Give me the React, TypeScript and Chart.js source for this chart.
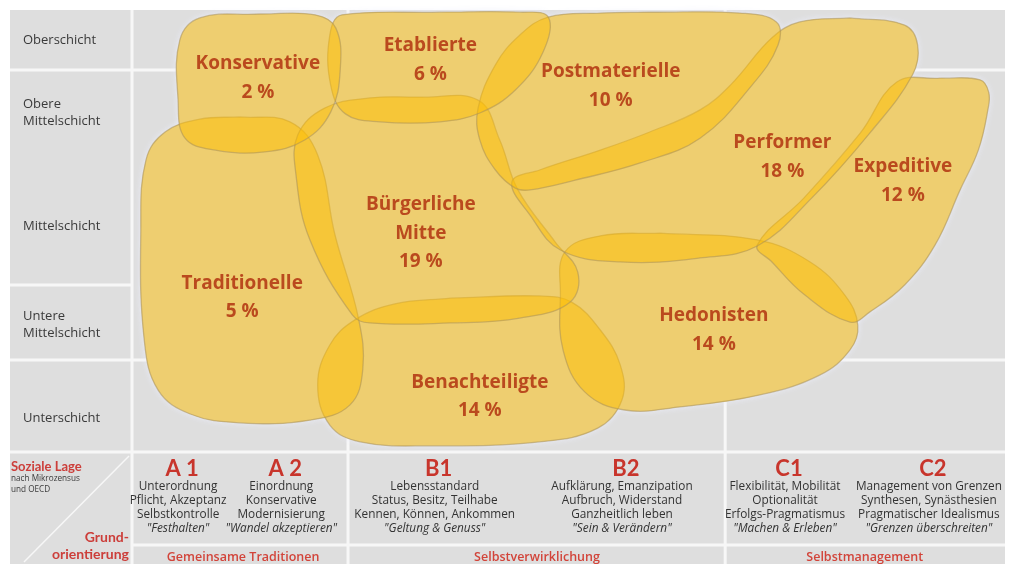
import React, { useEffect, useRef } from "react";
import { Chart, registerables } from "chart.js";

Chart.register(...registerables);

type Pt = [number, number];

// ---------- data (x: Grundorientierung 0–100, y: Soziale Lage 0–100) ----------
const milieuNames = [
  "Konservative",
  "Etablierte",
  "Postmaterielle",
  "Performer",
  "Expeditive",
  "Bürgerliche Mitte",
  "Traditionelle",
  "Hedonisten",
  "Benachteiligte",
];
const milieuShares = [2, 6, 10, 18, 12, 19, 5, 14, 14];
const milieuLabelX = [14.4, 34.3, 55.1, 74.9, 88.8, 33.2, 12.6, 67.0, 40.0];
const milieuLabelY = [87.8, 91.9, 86.0, 69.9, 64.5, 55.9, 38.2, 30.8, 15.8];

const konservativeOutline: Pt[] = [
  [14.6, 99.1], [21.0, 98.9], [23.4, 95.9], [23.9, 86.4], [22.8, 76.9], [19.8, 70.6],
  [15.2, 67.9], [9.5, 68.3], [6.0, 71.0], [5.2, 79.6], [5.4, 93.2], [7.7, 98.2], [14.6, 99.1],
];
const etablierteOutline: Pt[] = [
  [35.4, 99.5], [44.6, 99.5], [47.9, 98.4], [47.3, 90.5], [44.1, 81.9], [40.0, 76.7],
  [35.4, 74.7], [28.5, 74.7], [24.5, 76.5], [22.8, 83.0], [22.7, 94.3], [24.1, 98.9], [35.4, 99.5],
];
const postmaterielleOutline: Pt[] = [
  [59.6, 99.5], [70.0, 99.3], [74.2, 97.3], [74.4, 92.1], [71.4, 83.0], [65.4, 71.0],
  [58.5, 65.4], [51.0, 61.5], [45.8, 59.3], [44.1, 59.7], [41.8, 63.8], [40.0, 70.6],
  [39.8, 77.8], [41.8, 87.6], [44.6, 94.3], [47.9, 98.4], [53.9, 99.3], [59.6, 99.5],
];
const performerOutline: Pt[] = [
  [82.7, 98.2], [76.9, 97.3], [73.7, 93.7], [68.9, 83.0], [65.4, 77.4], [59.6, 72.4],
  [53.9, 68.3], [46.9, 63.8], [43.7, 61.1], [45.8, 53.6], [49.3, 45.7], [56.2, 43.0],
  [65.4, 43.9], [72.0, 46.6], [78.3, 57.5], [85.0, 72.2], [89.9, 85.3], [90.5, 92.1],
  [89.0, 96.6], [82.7, 98.2],
];
const expeditiveOutline: Pt[] = [
  [93.1, 84.6], [97.7, 84.2], [98.7, 81.4], [98.6, 77.4], [97.5, 68.3], [95.4, 59.3],
  [92.5, 46.8], [89.0, 37.8], [85.0, 31.7], [82.7, 29.4], [77.5, 35.5], [73.7, 43.0],
  [72.0, 46.8], [77.4, 57.5], [83.9, 72.2], [88.1, 83.7], [93.1, 84.6],
];
const buergerlicheOutline: Pt[] = [
  [33.1, 80.3], [39.8, 79.6], [42.3, 70.6], [44.4, 59.3], [48.7, 47.5], [51.3, 40.7],
  [50.4, 33.9], [44.6, 30.3], [36.6, 29.2], [27.3, 29.2], [25.3, 31.0], [20.4, 48.0],
  [18.8, 62.7], [19.0, 71.7], [22.1, 77.8], [27.3, 80.1], [33.1, 80.3],
];
const traditionelleOutline: Pt[] = [
  [12.3, 75.8], [18.1, 74.7], [21.3, 67.2], [23.3, 49.1], [26.0, 30.3], [26.5, 18.6],
  [25.0, 10.6], [20.4, 7.2], [12.3, 6.6], [6.6, 8.6], [2.9, 14.0], [1.3, 25.3],
  [0.9, 50.2], [1.5, 66.1], [3.7, 72.4], [7.7, 75.3], [12.3, 75.8],
];
const hedonistenOutline: Pt[] = [
  [60.8, 49.5], [72.0, 48.0], [78.1, 43.0], [82.1, 35.5], [83.6, 28.7], [82.7, 23.1],
  [79.2, 17.4], [72.3, 12.9], [63.1, 10.2], [56.7, 9.5], [52.1, 13.6], [49.6, 23.1],
  [49.3, 35.5], [49.8, 45.2], [53.9, 48.9], [60.8, 49.5],
];
const benachteiligteOutline: Pt[] = [
  [36.6, 34.8], [46.9, 35.3], [50.6, 33.9], [53.9, 27.6], [56.2, 19.7], [56.4, 11.8],
  [53.6, 5.4], [46.9, 2.3], [34.3, 1.4], [26.2, 2.3], [22.7, 6.1], [21.3, 15.2],
  [22.7, 24.2], [25.6, 29.9], [30.2, 33.5], [36.6, 34.8],
];
const milieuOutlines = [
  konservativeOutline,
  etablierteOutline,
  postmaterielleOutline,
  performerOutline,
  expeditiveOutline,
  buergerlicheOutline,
  traditionelleOutline,
  hedonistenOutline,
  benachteiligteOutline,
];

const socialClasses = ["Oberschicht", "Obere|Mittelschicht", "Mittelschicht", "Untere|Mittelschicht", "Unterschicht"];
const socialClassCenters = [93.2, 76.7, 51.1, 28.7, 7.7];
const socialClassBounds = [86.4, 37.8, 20.8];

const orientationCodes = ["A 1", "A 2", "B1", "B2", "C1", "C2"];
const orientationLine1 = ["Unterordnung", "Einordnung", "Lebensstandard", "Aufklärung, Emanzipation", "Flexibilität, Mobilität", "Management von Grenzen"];
const orientationLine2 = ["Pflicht, Akzeptanz", "Konservative", "Status, Besitz, Teilhabe", "Aufbruch, Widerstand", "Optionalität", "Synthesen, Synästhesien"];
const orientationLine3 = ["Selbstkontrolle", "Modernisierung", "Kennen, Können, Ankommen", "Ganzheitlich leben", "Erfolgs-Pragmatismus", "Pragmatischer Idealismus"];
const orientationMottos = ['"Festhalten"', '"Wandel akzeptieren"', '"Geltung & Genuss"', '"Sein & Verändern"', '"Machen & Erleben"', '"Grenzen überschreiten"'];
const orientationCenters = [5.2, 17.1, 34.8, 56.4, 75.2, 91.8];
const orientationGroups = ["Gemeinsame Traditionen", "Selbstverwirklichung", "Selbstmanagement"];
const orientationGroupCenters = [12.7, 46.6, 84.4];
const orientationGroupBounds = [24.8, 68.3];

// ---------- styles ----------
const TEXT_FONT = '"Open Sans", "DejaVu Sans", sans-serif';
const HEAD_FONT = 'Lato, "Open Sans", sans-serif';
const GRAY = "#DEDEDE";
const LINE_WHITE = "#F7F7F7";

const tablePlugin = {
  id: "sinusTable",
  beforeDraw(chart: any) {
    const { ctx, chartArea: a, scales } = chart;
    const xs = scales.x;
    const ys = scales.y;
    const L = 10;
    const R = a.right + 5;
    const T = a.top;
    const B = chart.height;
    ctx.save();
    ctx.fillStyle = "#FFFFFF";
    ctx.fillRect(0, 0, chart.width, chart.height);
    ctx.fillStyle = GRAY;
    ctx.fillRect(L, T, R - L, B - T);

    const seg = (x0: number, y0: number, x1: number, y1: number) => {
      ctx.beginPath();
      ctx.moveTo(x0, y0);
      ctx.lineTo(x1, y1);
      ctx.stroke();
    };
    ctx.strokeStyle = LINE_WHITE;
    ctx.lineWidth = 3;
    socialClassBounds.forEach((v, i) => {
      const py = ys.getPixelForValue(v);
      seg(L, py, i === 1 ? a.left : R, py);
    });
    seg(L, a.bottom, R, a.bottom);
    seg(a.left, a.bottom + 93, R, a.bottom + 93);
    seg(a.left - 1, T, a.left - 1, B);
    orientationGroupBounds.forEach((v) => {
      const px = xs.getPixelForValue(v);
      seg(px, T, px, B);
    });
    ctx.lineWidth = 1.5;
    ctx.strokeStyle = "rgba(255,255,255,0.75)";
    seg(L + 14, B - 2, a.left - 4, a.bottom + 4);

    // left column labels
    ctx.fillStyle = "#3A3A3A";
    ctx.font = `13px ${TEXT_FONT}`;
    ctx.textAlign = "left";
    ctx.textBaseline = "middle";
    socialClasses.forEach((label, i) => {
      const parts = label.split("|");
      const cy = ys.getPixelForValue(socialClassCenters[i]);
      parts.forEach((p, k) => {
        ctx.fillText(p, 23, cy + (k - (parts.length - 1) / 2) * 17);
      });
    });

    // bottom header
    const base = a.bottom;
    ctx.fillStyle = "#CC3E3A";
    ctx.font = `bold 13px ${HEAD_FONT}`;
    ctx.fillText("Soziale Lage", 11, base + 15);
    ctx.fillStyle = "#3A3A3A";
    ctx.font = `8.2px ${TEXT_FONT}`;
    ctx.fillText("nach Mikrozensus", 11, base + 27);
    ctx.fillText("und OECD", 11, base + 38);
    ctx.fillStyle = "#CC3E3A";
    ctx.font = `bold 14px ${HEAD_FONT}`;
    ctx.textAlign = "right";
    ctx.fillText("Grund-", a.left - 4, base + 85);
    ctx.fillText("orientierung", a.left - 4, base + 102);

    ctx.textAlign = "center";
    orientationCodes.forEach((code, i) => {
      const cx = xs.getPixelForValue(orientationCenters[i]);
      ctx.fillStyle = "#C8352C";
      ctx.font = `bold 22px ${HEAD_FONT}`;
      ctx.fillText(code, cx + 4, base + 17);
      ctx.fillStyle = "#333333";
      ctx.font = `11.8px ${TEXT_FONT}`;
      ctx.fillText(orientationLine1[i], cx, base + 35);
      ctx.fillText(orientationLine2[i], cx, base + 49);
      ctx.fillText(orientationLine3[i], cx, base + 63);
      ctx.font = `italic 11.8px ${TEXT_FONT}`;
      ctx.fillText(orientationMottos[i], cx, base + 77);
    });
    ctx.fillStyle = "#D2443A";
    ctx.font = `600 12.5px ${TEXT_FONT}`;
    orientationGroups.forEach((g, i) => {
      ctx.fillText(g, xs.getPixelForValue(orientationGroupCenters[i]), base + 105);
    });
    ctx.restore();
  },
};

const underlayPlugin = {
  id: "blobUnderlay",
  beforeDatasetsDraw(chart: any) {
    const { ctx } = chart;
    const metas = chart.getSortedVisibleDatasetMetas();
    ctx.save();
    ctx.shadowColor = "rgba(236,238,252,0.95)";
    ctx.shadowBlur = 7;
    ctx.fillStyle = GRAY;
    metas.forEach((meta: any) => {
      const line = meta.dataset;
      if (!line) return;
      if (line.updateControlPoints) line.updateControlPoints(chart.chartArea, "x");
      ctx.beginPath();
      line.path(ctx);
      ctx.closePath();
      ctx.fill();
    });
    ctx.shadowColor = "rgba(0,0,0,0)";
    ctx.shadowBlur = 0;
    metas.forEach((meta: any) => {
      const line = meta.dataset;
      if (!line) return;
      ctx.beginPath();
      line.path(ctx);
      ctx.closePath();
      ctx.fill();
    });
    ctx.restore();
  },
};

const labelPlugin = {
  id: "milieuLabels",
  afterDatasetsDraw(chart: any) {
    const { ctx, scales } = chart;
    ctx.save();
    ctx.fillStyle = "#BA4A1E";
    ctx.font = `bold 19px ${TEXT_FONT}`;
    ctx.textAlign = "center";
    ctx.textBaseline = "middle";
    milieuNames.forEach((name, i) => {
      const lines = name.split(" ").concat([`${milieuShares[i]} %`]);
      const cx = scales.x.getPixelForValue(milieuLabelX[i]);
      const cy = scales.y.getPixelForValue(milieuLabelY[i]);
      lines.forEach((t, k) => ctx.fillText(t, cx, cy + k * 28.5));
    });
    ctx.restore();
  },
};

export default function App() {
  const ref = useRef<HTMLCanvasElement>(null);
  useEffect(() => {
    document.body.style.margin = "0";
    const canvas = ref.current;
    if (!canvas) return;
    const chart = new Chart(canvas, {
      type: "scatter",
      data: {
        datasets: milieuOutlines.map((pts, i) => ({
          label: milieuNames[i],
          data: pts.map(([x, y]) => ({ x, y })),
          showLine: true,
          fill: "shape",
          backgroundColor: "rgba(255,190,0,0.495)",
          borderColor: "rgba(170,145,90,0.55)",
          borderWidth: 1.3,
          tension: 0.4,
          pointRadius: 0,
          pointHoverRadius: 0,
        })),
      },
      options: {
        animation: false,
        responsive: false,
        events: [],
        layout: { padding: { left: 133, right: 12, top: 10, bottom: 112 } },
        scales: {
          x: { type: "linear", min: 0, max: 100, display: false },
          y: { type: "linear", min: 0, max: 100, display: false },
        },
        plugins: {
          legend: { display: false },
          tooltip: { enabled: false },
        },
      } as any,
      plugins: [tablePlugin, underlayPlugin, labelPlugin],
    } as any);
    return () => chart.destroy();
  }, []);
  return (
    <div style={{ position: "fixed", left: 0, top: 0, width: 1012, height: 564, background: "#fff" }}>
      <canvas ref={ref} width={1012} height={564} style={{ display: "block", width: 1012, height: 564 }} />
    </div>
  );
}
